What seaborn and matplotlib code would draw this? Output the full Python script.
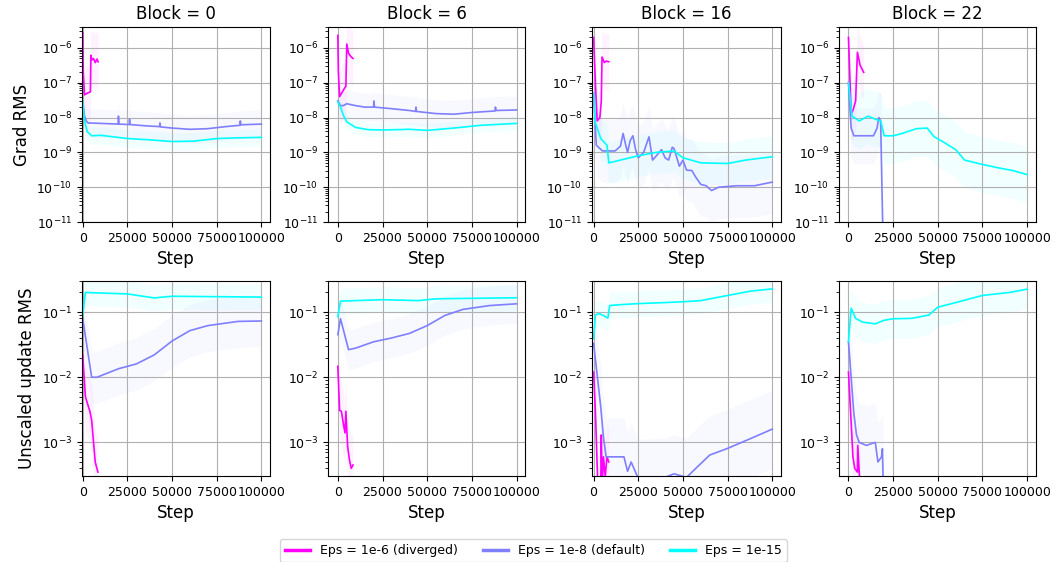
import numpy as np
import pandas as pd
import matplotlib
matplotlib.use("Agg")
import matplotlib.pyplot as plt
from matplotlib.lines import Line2D
from matplotlib.ticker import LogLocator, NullFormatter
import seaborn as sns

blocks = [0, 6, 16, 22]
eps_labels = ["Eps = 1e-6 (diverged)", "Eps = 1e-8 (default)", "Eps = 1e-15"]
metrics = ["Grad RMS", "Unscaled update RMS"]
colors = ["#ff00ff", "#7f7fff", "#00ffff"]

# ---- Grad RMS ----
grad_b0_e6_step = [0, 300, 1000, 2500, 4300, 4600, 5000, 6000, 7000, 8000, 8600]
grad_b0_e6_val = [2.7e-6, 2e-7, 4.5e-8, 5e-8, 5.5e-8, 6.2e-7, 4.5e-7, 5e-7, 3.8e-7, 4.8e-7, 4e-7]
grad_b0_e8_step = [0, 1000, 2000, 3000, 10000, 19800, 20000, 20300, 26000, 26200, 26500, 35000,
                   43000, 43200, 43500, 50000, 60000, 70000, 80000, 88000, 88200, 88500, 100000]
grad_b0_e8_val = [3e-8, 1.1e-8, 8e-9, 7e-9, 6.8e-9, 6.5e-9, 1.1e-8, 6.5e-9, 6.3e-9, 9e-9, 6.3e-9, 5.8e-9,
                  5.5e-9, 7e-9, 5.4e-9, 5e-9, 4.6e-9, 4.8e-9, 5.5e-9, 6e-9, 8e-9, 6.2e-9, 6.5e-9]
grad_b0_e15_step = [0, 1000, 2500, 5000, 10000, 25000, 37000, 50000, 62000, 75000, 85000, 100000]
grad_b0_e15_val = [3e-8, 8e-9, 4e-9, 3e-9, 3.1e-9, 2.5e-9, 2.3e-9, 2.05e-9, 2.1e-9, 2.5e-9, 2.6e-9, 2.7e-9]

grad_b6_e6_step = [0, 300, 1000, 3000, 4500, 5000, 6000, 7500, 8500]
grad_b6_e6_val = [2.3e-6, 2e-7, 4e-8, 6e-8, 8e-8, 1.3e-6, 7e-7, 5.5e-7, 5e-7]
grad_b6_e8_step = [0, 1500, 3000, 5000, 10000, 15000, 20000, 20200, 20500, 30000, 40000, 43500,
                   43700, 44000, 55000, 65000, 75000, 88000, 88200, 88500, 100000]
grad_b6_e8_val = [3e-8, 2.2e-8, 2.2e-8, 2.5e-8, 2.2e-8, 2e-8, 2e-8, 3e-8, 2e-8, 1.8e-8, 1.6e-8, 1.5e-8,
                  2e-8, 1.5e-8, 1.3e-8, 1.25e-8, 1.4e-8, 1.55e-8, 2e-8, 1.6e-8, 1.65e-8]
grad_b6_e15_step = [0, 1500, 3000, 5000, 10000, 17000, 25000, 40000, 50000, 65000, 80000, 100000]
grad_b6_e15_val = [2.8e-8, 2e-8, 1.2e-8, 7.5e-9, 5.2e-9, 4.5e-9, 4.4e-9, 4.6e-9, 4.3e-9, 5e-9, 6e-9, 6.8e-9]

grad_b16_e6_step = [0, 1000, 2000, 3500, 4300, 4700, 6000, 7000, 8500]
grad_b16_e6_val = [2e-6, 1e-7, 8e-9, 1e-8, 3e-8, 5.5e-7, 3.8e-7, 4.2e-7, 4e-7]
grad_b16_e8_step = [0, 1500, 5000, 12000, 15000, 16500, 18000, 19000, 20500, 22000, 23500, 25000, 28000,
                    31000, 33000, 36000, 38000, 40000, 42000, 44000, 45000, 48000, 50000, 52000, 55000,
                    57000, 60000, 63000, 66000, 70000, 80000, 90000, 100000]
grad_b16_e8_val = [5e-8, 1.6e-9, 1.1e-9, 1.1e-9, 1.5e-9, 3.5e-9, 1.6e-9, 1e-9, 2.2e-9, 3e-9, 1.2e-9, 7e-10, 1e-9,
                   2.8e-9, 6e-10, 9e-10, 1.2e-9, 7e-10, 6e-10, 1.4e-9, 1.3e-9, 4e-10, 6e-10, 3.1e-10, 3e-10,
                   2e-10, 1.2e-10, 1.1e-10, 8e-11, 1e-10, 1.1e-10, 1.1e-10, 1.4e-10]
grad_b16_e15_step = [0, 1000, 4000, 7500, 8500, 15000, 25000, 35000, 45000, 50000, 60000, 75000, 85000, 100000]
grad_b16_e15_val = [5e-8, 7e-9, 2.5e-9, 1.6e-9, 5e-10, 6e-10, 8e-10, 1e-9, 1.1e-9, 7e-10, 5e-10, 4.8e-10, 6e-10, 7.5e-10]

grad_b22_e6_step = [0, 1500, 2500, 4000, 5000, 6500, 8500]
grad_b22_e6_val = [2e-6, 1.3e-8, 1.6e-8, 3e-8, 7.5e-7, 3.2e-7, 2e-7]
grad_b22_e8_step = [0, 1500, 3000, 8000, 14000, 16000, 17000, 18000, 19500]
grad_b22_e8_val = [1e-7, 5e-9, 3e-9, 3e-9, 3e-9, 5e-9, 1e-8, 8e-9, 1e-12]
grad_b22_e15_step = [0, 2000, 6000, 11000, 15000, 18000, 20000, 25000, 30000, 38000, 44000, 48000,
                     53000, 60000, 65000, 75000, 85000, 92000, 100000]
grad_b22_e15_val = [1e-7, 1.1e-8, 8e-9, 1.1e-8, 9e-9, 8e-9, 3e-9, 3e-9, 3.5e-9, 4.8e-9, 5e-9, 2.8e-9,
                    2e-9, 1.2e-9, 6e-10, 4.5e-10, 3.5e-10, 3e-10, 2.3e-10]

# ---- Unscaled update RMS ----
upd_b0_e6_step = [0, 1500, 4000, 5000, 7000, 8500]
upd_b0_e6_val = [0.022, 0.005, 0.003, 0.0022, 0.0005, 0.00035]
upd_b0_e8_step = [0, 5000, 8000, 20000, 30000, 40000, 50000, 60000, 70000, 87000, 100000]
upd_b0_e8_val = [0.08, 0.01, 0.01, 0.0135, 0.016, 0.022, 0.036, 0.052, 0.062, 0.072, 0.073]
upd_b0_e15_step = [0, 1500, 25000, 40000, 50000, 100000]
upd_b0_e15_val = [0.09, 0.2, 0.19, 0.165, 0.175, 0.17]

upd_b6_e6_step = [0, 1000, 2000, 3000, 4000, 4500, 5500, 6500, 7500, 8500]
upd_b6_e6_val = [0.0147, 0.0031, 0.003, 0.002, 0.0014, 0.003, 0.00086, 0.00054, 0.0004, 0.00045]
upd_b6_e8_step = [0, 1500, 6000, 10000, 20000, 30000, 40000, 50000, 60000, 70000, 85000, 100000]
upd_b6_e8_val = [0.045, 0.079, 0.0265, 0.028, 0.035, 0.04, 0.047, 0.062, 0.089, 0.11, 0.126, 0.134]
upd_b6_e15_step = [0, 1500, 10000, 25000, 45000, 55000, 100000]
upd_b6_e15_val = [0.085, 0.147, 0.15, 0.155, 0.15, 0.16, 0.166]

upd_b16_e6_step = [0, 1000, 2400, 4000, 4300, 4800, 5500, 6500, 7500, 8500]
upd_b16_e6_val = [0.012, 0.003, 0.0002, 0.0002, 0.0013, 0.0002, 0.0006, 0.0003, 0.0006, 0.0005]
upd_b16_e8_step = [0, 4000, 5500, 7000, 12000, 17000, 19000, 21000, 25000, 40000, 45000, 52000,
                   58000, 65000, 75000, 88000, 100000]
upd_b16_e8_val = [0.033, 0.0035, 0.0012, 0.0006, 0.0006, 0.0006, 0.00036, 0.0005, 0.00028, 0.00029,
                  0.00033, 0.00029, 0.00042, 0.00064, 0.00081, 0.00115, 0.0016]
upd_b16_e15_step = [0, 1000, 3000, 5000, 8000, 9000, 15000, 25000, 40000, 50000, 60000, 75000, 88000, 100000]
upd_b16_e15_val = [0.039, 0.09, 0.095, 0.09, 0.081, 0.126, 0.13, 0.135, 0.14, 0.144, 0.15, 0.18, 0.21, 0.227]

upd_b22_e6_step = [0, 1500, 2500, 3500, 5000, 5200, 6500]
upd_b22_e6_val = [0.012, 0.002, 0.0006, 0.0004, 0.00035, 0.0009, 0.0002]
upd_b22_e8_step = [0, 3000, 4500, 6000, 10000, 15000, 16500, 18500, 19000, 19500]
upd_b22_e8_val = [0.035, 0.0028, 0.0013, 0.001, 0.0009, 0.001, 0.0005, 0.0006, 0.0008, 0.0002]
upd_b22_e15_step = [0, 1500, 4000, 8000, 15000, 20000, 25000, 35000, 45000, 50000, 60000, 75000, 90000, 100000]
upd_b22_e15_val = [0.035, 0.115, 0.08, 0.07, 0.066, 0.075, 0.079, 0.08, 0.09, 0.119, 0.14, 0.18, 0.2, 0.225]

# half-width of the faint seed band, in decades (per block, per eps)
grad_spread = [[0.8, 0.4, 0.25], [0.8, 0.4, 0.2], [0.8, 0.9, 0.6], [0.8, 0.8, 0.8]]
upd_spread = [[0.5, 0.4, 0.2], [0.5, 0.3, 0.2], [0.5, 0.6, 0.2], [0.5, 0.6, 0.3]]

series = {
    ("Grad RMS", 0): [(grad_b0_e6_step, grad_b0_e6_val), (grad_b0_e8_step, grad_b0_e8_val), (grad_b0_e15_step, grad_b0_e15_val)],
    ("Grad RMS", 6): [(grad_b6_e6_step, grad_b6_e6_val), (grad_b6_e8_step, grad_b6_e8_val), (grad_b6_e15_step, grad_b6_e15_val)],
    ("Grad RMS", 16): [(grad_b16_e6_step, grad_b16_e6_val), (grad_b16_e8_step, grad_b16_e8_val), (grad_b16_e15_step, grad_b16_e15_val)],
    ("Grad RMS", 22): [(grad_b22_e6_step, grad_b22_e6_val), (grad_b22_e8_step, grad_b22_e8_val), (grad_b22_e15_step, grad_b22_e15_val)],
    ("Unscaled update RMS", 0): [(upd_b0_e6_step, upd_b0_e6_val), (upd_b0_e8_step, upd_b0_e8_val), (upd_b0_e15_step, upd_b0_e15_val)],
    ("Unscaled update RMS", 6): [(upd_b6_e6_step, upd_b6_e6_val), (upd_b6_e8_step, upd_b6_e8_val), (upd_b6_e15_step, upd_b6_e15_val)],
    ("Unscaled update RMS", 16): [(upd_b16_e6_step, upd_b16_e6_val), (upd_b16_e8_step, upd_b16_e8_val), (upd_b16_e15_step, upd_b16_e15_val)],
    ("Unscaled update RMS", 22): [(upd_b22_e6_step, upd_b22_e6_val), (upd_b22_e8_step, upd_b22_e8_val), (upd_b22_e15_step, upd_b22_e15_val)],
}

rows = []
for (metric, block), lines in series.items():
    for eps, (st, vals) in zip(eps_labels, lines):
        for s, v in zip(st, vals):
            rows.append({"Metric": metric, "Block": block, "Eps": eps, "Step": s, "RMS": v})
df = pd.DataFrame(rows)

plt.rcParams["font.family"] = ["DejaVu Sans"]
plt.rcParams["axes.grid"] = True
plt.rcParams["xtick.labelsize"] = 9
plt.rcParams["ytick.labelsize"] = 9

W, H = 1056, 562
fig = plt.figure(figsize=(W / 100, H / 100), dpi=100)

col_left = [82, 328, 592, 839]
xlims = [(-400, 104800), (-5500, 104800), (-900, 104800), (-5300, 104800)]
px_per_step = 178.7 / 100000
row_top = [27, 281]
ax_h = 195
ylims = [(1e-11, 4e-6), (3.05e-4, 0.30)]

for r, metric in enumerate(metrics):
    spreads = grad_spread if r == 0 else upd_spread
    for c, block in enumerate(blocks):
        w = (xlims[c][1] - xlims[c][0]) * px_per_step
        ax = fig.add_axes([col_left[c] / W, 1 - (row_top[r] + ax_h) / H, w / W, ax_h / H])
        sub = df[(df.Metric == metric) & (df.Block == block)]
        # faint band
        for i, eps in enumerate(eps_labels):
            d = sub[sub.Eps == eps]
            k = 10 ** spreads[c][i]
            ax.fill_between(d.Step, d.RMS / k, d.RMS * k, color=colors[i], alpha=0.05, lw=0)
        sns.lineplot(data=sub, x="Step", y="RMS", hue="Eps", hue_order=eps_labels,
                     palette=colors, estimator=None, lw=1.2, legend=False, ax=ax)
        ax.set_yscale("log")
        ax.set_xlim(*xlims[c])
        ax.set_ylim(*ylims[r])
        ax.yaxis.set_minor_locator(LogLocator(base=10, subs=np.arange(2, 10), numticks=30))
        ax.yaxis.set_minor_formatter(NullFormatter())
        ax.set_xticks([0, 25000, 50000, 75000, 100000])
        ax.set_xlabel("Step", fontsize=12)
        ax.set_ylabel(metric if c == 0 else "", fontsize=12)
        if r == 0:
            ax.set_title(f"Block = {block}", fontsize=12)
        ax.grid(True, which="major", color="#b0b0b0", lw=0.8)

handles = [Line2D([], [], color=col, lw=2.5) for col in colors]
fig.legend(handles, eps_labels, loc="upper center", bbox_to_anchor=(0.505, 1 - 533 / H),
           ncol=3, fontsize=9, frameon=True)

fig.savefig("out.png", dpi=100)
